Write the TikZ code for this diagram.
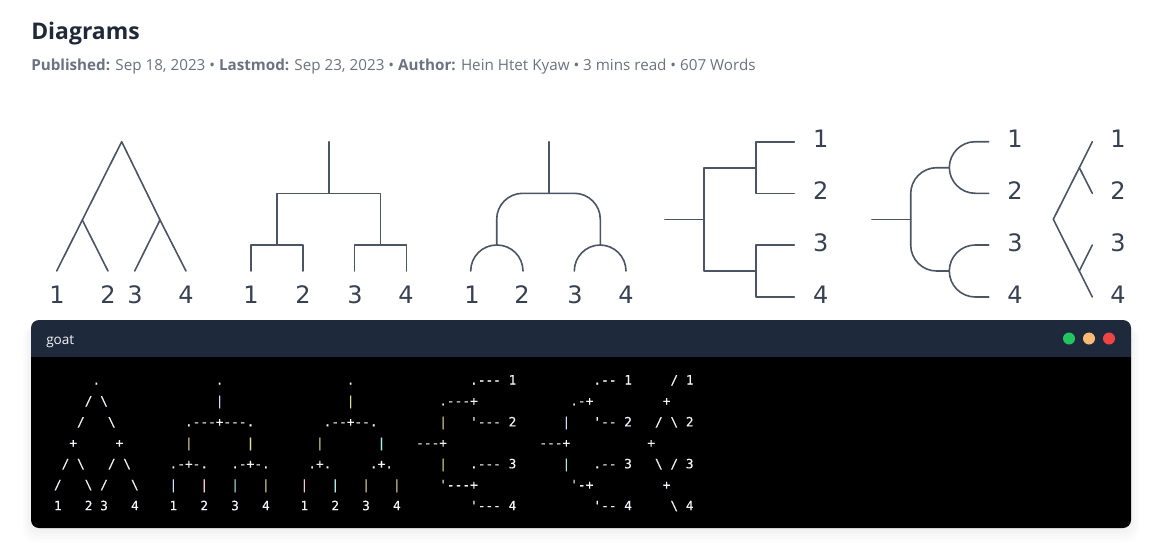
\documentclass[tikz,border=0pt]{standalone}
\usepackage{fontspec}
\setmainfont{Open Sans}
\newfontfamily\goatfont[FakeBold=0.25]{DejaVu Sans Mono}
\newfontfamily\digitfont{DejaVu Sans}
\definecolor{inkline}{HTML}{4B5563}
\definecolor{inktext}{HTML}{374151}
\definecolor{titlec}{HTML}{1F2937}
\definecolor{metac}{HTML}{6B7280}
\definecolor{headc}{HTML}{1E293B}
\definecolor{goatc}{HTML}{F1F5F9}
\definecolor{bB}{HTML}{CFE0FF}
\definecolor{bY}{HTML}{E6DC9C}
\definecolor{bC}{HTML}{A9EBE6}
\definecolor{bP}{HTML}{F6C6D6}
\definecolor{dotG}{HTML}{22C55E}
\definecolor{dotO}{HTML}{FDBA74}
\definecolor{dotR}{HTML}{EF4444}
\newcommand{\bs}{\textbackslash}
\newcommand{\V}[1]{\textcolor{#1}{|}}
\tikzset{
  x=0.75pt,y=-0.75pt,
  tree/.style={draw=inkline,line width=1.2pt,line cap=round,line join=round},
  arch/.style={tree,rounded corners=19.5pt},
  digit/.style={font=\digitfont\fontsize{18}{18}\selectfont,text=inktext,anchor=base,inner sep=0pt},
  goatrow/.style={font=\goatfont\fontsize{9.6}{9.6}\selectfont,text=goatc,anchor=base west,inner sep=0pt},
}
\begin{document}
\begin{tikzpicture}
\useasboundingbox[fill=white] (0,0) rectangle (1157,543);
% heading
\node[anchor=base west,inner sep=0pt,text=titlec,font=\bfseries\fontsize{17.2}{17.2}\selectfont] (title) at (31,39) {Diagrams};
\node[anchor=base west,inner sep=0pt,text=metac,font=\fontsize{11.4}{11.4}\selectfont] (meta) at (31,70) {\textbf{Published:} Sep 18, 2023 • \textbf{Lastmod:} Sep 23, 2023 • \textbf{Author:} Hein Htet Kyaw • 3 mins read • 607 Words};
% tree 1
\coordinate (a0) at (121.7,141.7); \coordinate (aL) at (82.3,220); \coordinate (aR) at (160,220);
\coordinate (a1) at (56.7,271); \coordinate (a2) at (108,271); \coordinate (a3) at (134.7,271); \coordinate (a4) at (186,271);
\draw[tree] (a1) -- (aL) -- (a0) -- (aR) -- (a4);
\draw[tree] (aL) -- (a2);
\draw[tree] (aR) -- (a3);
\node[digit] (la1) at (57,303.3) {1}; \node[digit] (la2) at (108,303.3) {2}; \node[digit] (la3) at (135,303.3) {3}; \node[digit] (la4) at (186,303.3) {4};
% tree 2
\coordinate (b0) at (328.7,141.7); \coordinate (bm) at (328.7,193.3);
\coordinate (bLt) at (277,193.3); \coordinate (bRt) at (380.3,193.3);
\coordinate (bL) at (277,245); \coordinate (bR) at (380.3,245);
\coordinate (b1t) at (250.7,245); \coordinate (b2t) at (302.7,245); \coordinate (b3t) at (354.3,245); \coordinate (b4t) at (406.3,245);
\coordinate (b1) at (250.7,271); \coordinate (b2) at (302.7,271); \coordinate (b3) at (354.3,271); \coordinate (b4) at (406.3,271);
\draw[tree] (b0) -- (bm);
\draw[tree] (bL) -- (bLt) -- (bRt) -- (bR);
\draw[tree] (b1) -- (b1t) -- (b2t) -- (b2);
\draw[tree] (b3) -- (b3t) -- (b4t) -- (b4);
\node[digit] (lb1) at (251,303.3) {1}; \node[digit] (lb2) at (303,303.3) {2}; \node[digit] (lb3) at (355,303.3) {3}; \node[digit] (lb4) at (406,303.3) {4};
% tree 3
\coordinate (c0) at (548.7,141.7); \coordinate (cm) at (548.7,193.3);
\coordinate (cLt) at (496.7,193.3); \coordinate (cRt) at (600.3,193.3);
\coordinate (cL) at (496.7,245); \coordinate (cR) at (600.3,245);
\coordinate (c1t) at (470.7,245); \coordinate (c2t) at (523,245); \coordinate (c3t) at (574.3,245); \coordinate (c4t) at (626,245);
\coordinate (c1) at (470.7,271); \coordinate (c2) at (523,271); \coordinate (c3) at (574.3,271); \coordinate (c4) at (626,271);
\draw[tree] (c0) -- (cm);
\draw[arch] (cL) -- (cLt) -- (cRt) -- (cR);
\draw[arch] (c1) -- (c1t) -- (c2t) -- (c2);
\draw[arch] (c3) -- (c3t) -- (c4t) -- (c4);
\node[digit] (lc1) at (472,303.3) {1}; \node[digit] (lc2) at (522,303.3) {2}; \node[digit] (lc3) at (575,303.3) {3}; \node[digit] (lc4) at (626,303.3) {4};
% tree 4
\coordinate (d0) at (665,219.3); \coordinate (dm) at (703.7,219.3);
\coordinate (dTl) at (703.7,167.7); \coordinate (dBl) at (703.7,271);
\coordinate (dT) at (755.7,167.7); \coordinate (dB) at (755.7,271);
\coordinate (d1c) at (755.7,141.7); \coordinate (d2c) at (755.7,193.3); \coordinate (d3c) at (755.7,245); \coordinate (d4c) at (755.7,297);
\coordinate (d1) at (794.3,141.7); \coordinate (d2) at (794.3,193.3); \coordinate (d3) at (794.3,245); \coordinate (d4) at (794.3,297);
\draw[tree] (d0) -- (dm);
\draw[tree] (dT) -- (dTl) -- (dBl) -- (dB);
\draw[tree] (d1) -- (d1c) -- (d2c) -- (d2);
\draw[tree] (d3) -- (d3c) -- (d4c) -- (d4);
\node[digit] (ld1) at (820.7,147.3) {1}; \node[digit] (ld2) at (820.7,199.3) {2}; \node[digit] (ld3) at (820.7,251) {3}; \node[digit] (ld4) at (820.7,303.3) {4};
% tree 5
\coordinate (e0) at (872,219.3); \coordinate (em) at (910.7,219.3);
\coordinate (eTl) at (910.7,167.7); \coordinate (eBl) at (910.7,271);
\coordinate (eT) at (949.3,167.7); \coordinate (eB) at (949.3,271);
\coordinate (e1c) at (949.3,141.7); \coordinate (e2c) at (949.3,193.3); \coordinate (e3c) at (949.3,245); \coordinate (e4c) at (949.3,297);
\coordinate (e1) at (988.7,141.7); \coordinate (e2) at (988.7,193.3); \coordinate (e3) at (988.7,245); \coordinate (e4) at (988.7,297);
\draw[tree] (e0) -- (em);
\draw[arch] (eT) -- (eTl) -- (eBl) -- (eB);
\draw[arch] (e1) -- (e1c) -- (e2c) -- (e2);
\draw[arch] (e3) -- (e3c) -- (e4c) -- (e4);
\node[digit] (le1) at (1015,147.3) {1}; \node[digit] (le2) at (1015,199.3) {2}; \node[digit] (le3) at (1015,251) {3}; \node[digit] (le4) at (1015,303.3) {4};
% tree 6
\coordinate (f0) at (1053.3,219.3); \coordinate (fT) at (1079.3,167.7); \coordinate (fB) at (1079.3,271);
\coordinate (f1) at (1092.3,141.7); \coordinate (f2) at (1092.3,193.3); \coordinate (f3) at (1092.3,245); \coordinate (f4) at (1092.3,297);
\draw[tree] (f1) -- (fT) -- (f0) -- (fB) -- (f4);
\draw[tree] (fT) -- (f2);
\draw[tree] (fB) -- (f3);
\node[digit] (lf1) at (1118,147.3) {1}; \node[digit] (lf2) at (1118,199.3) {2}; \node[digit] (lf3) at (1118,251) {3}; \node[digit] (lf4) at (1118,303.3) {4};
% window shadow
\foreach \g in {0,1,2,3,4}{
  \fill[black,opacity=0.012,rounded corners=9pt] (31-\g*2,326) rectangle (1131+\g*2,530+\g*3);
}
% window
\fill[black,rounded corners=6pt] (31,330) rectangle (1131,528);
\fill[headc,rounded corners=6pt] (31,320) rectangle (1131,345);
\fill[headc] (31,335) rectangle (1131,357);
\node[anchor=base west,inner sep=0pt,text=goatc,font=\fontsize{10.2}{10.2}\selectfont] (wtitle) at (46,344) {goat};
\fill[dotG] (1069,338.5) circle[radius=6];
\fill[dotO] (1089,338.5) circle[radius=6];
\fill[dotR] (1109,338.5) circle[radius=6];
% goat text
\node[goatrow] (r1) at (46,384.5) {~~~~~~.~~~~~~~~~~~~~~~.~~~~~~~~~~~~~~~~.~~~~~~~~~~~~~~~.---~1~~~~~~~~~~.--~1~~~~~/~1};
\node[goatrow] (r2) at (46,405.45) {~~~~~/~\bs{}~~~~~~~~~~~~~~\V{bB}~~~~~~~~~~~~~~~~\V{bY}~~~~~~~~~~~.---+~~~~~~~~~~~~.-+~~~~~~~~~+};
\node[goatrow] (r3) at (46,426.4) {~~~~/~~~\bs{}~~~~~~~~~.---+---.~~~~~~~~~.--+--.~~~~~~~~\V{bY}~~~'---~2~~~~~~\V{bB}~~~'--~2~~~/~\bs{}~2};
\node[goatrow] (r4) at (46,447.35) {~~~+~~~~~+~~~~~~~~\V{bY}~~~~~~~\V{bY}~~~~~~~~\V{bY}~~~~~~~\V{bC}~~~~---+~~~~~~~~~~~~---+~~~~~~~~~~+};
\node[goatrow] (r5) at (46,468.3) {~~/~\bs{}~~~/~\bs{}~~~~~.-+-.~~~.-+-.~~~~~.+.~~~~~.+.~~~~~~\V{bY}~~~.---~3~~~~~~\V{bC}~~~.--~3~~~\bs{}~/~3};
\node[goatrow] (r6) at (46,489.25) {~/~~~\bs{}~/~~~\bs{}~~~~\V{bB}~~~\V{bP}~~~\V{bC}~~~\V{bY}~~~~\V{bP}~~~\V{bC}~~~\V{bY}~~~\V{bY}~~~~~'---+~~~~~~~~~~~~'-+~~~~~~~~~+};
\node[goatrow] (r7) at (46,510.2) {~1~~~2~3~~~4~~~~1~~~2~~~3~~~4~~~~1~~~2~~~3~~~4~~~~~~~~~'---~4~~~~~~~~~~'--~4~~~~~\bs{}~4};
\end{tikzpicture}
\end{document}
